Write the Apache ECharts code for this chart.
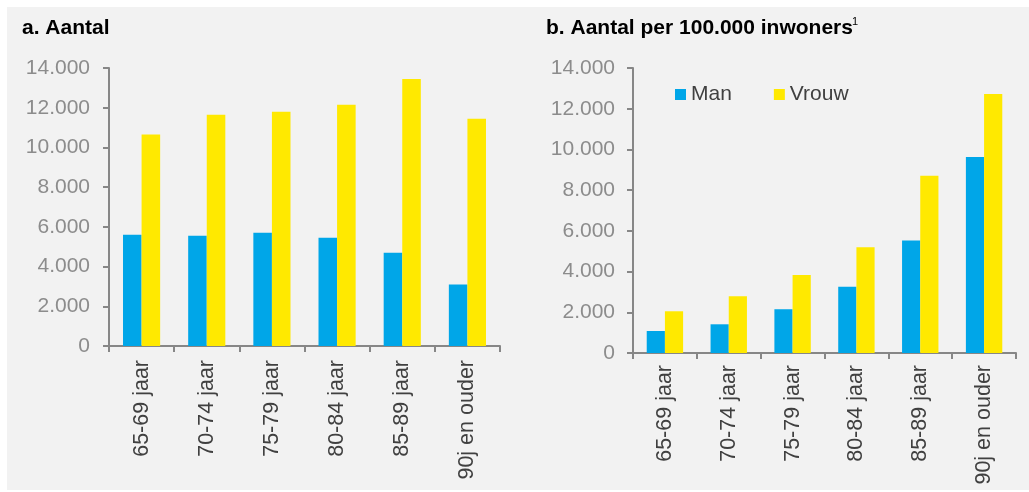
<!DOCTYPE html>
<html>
<head>
<meta charset="utf-8">
<script src="https://cdn.jsdelivr.net/npm/echarts@6/dist/echarts.min.js"></script>
<style>
  html, body { margin: 0; padding: 0; background: #ffffff; }
  #chart { width: 1029px; height: 492px; }
</style>
</head>
<body>
<div id="chart"></div>
<script>
// Age groups shown on both panels
const categories = ['65-69 jaar', '70-74 jaar', '75-79 jaar', '80-84 jaar', '85-89 jaar', '90j en ouder'];

// a. Aantal (absolute counts)
const countMan   = [5600, 5550, 5700, 5450, 4700, 3100];
const countVrouw = [10650, 11650, 11800, 12150, 13450, 11450];

// b. Aantal per 100.000 inwoners
const rateMan   = [1080, 1410, 2150, 3250, 5530, 9630];
const rateVrouw = [2050, 2790, 3830, 5190, 8710, 12720];

const seriesNames = ['Man', 'Vrouw'];
const yTicks = { min: 0, max: 14000, interval: 2000 };

const BLUE = '#00A6E8';
const YELLOW = '#FFE900';
const AXIS = '#878787';
const FONT = '"Liberation Sans", Arial, sans-serif';

// Dutch thousands separator: 14000 -> "14.000"
function fmt(v) {
  return String(v).replace(/\B(?=(\d{3})+(?!\d))/g, '.');
}

function xAxisFor(gridIndex, margin) {
  return {
    type: 'category',
    gridIndex: gridIndex,
    data: categories,
    axisLine: { lineStyle: { color: AXIS, width: 2 } },
    axisTick: { show: true, length: 6, lineStyle: { color: AXIS, width: 2 } },
    axisLabel: {
      rotate: 90, margin: margin, interval: 0,
      color: '#404040', fontSize: 21.5, fontFamily: FONT
    }
  };
}

function yAxisFor(gridIndex, margin) {
  return {
    type: 'value',
    gridIndex: gridIndex,
    min: yTicks.min, max: yTicks.max, interval: yTicks.interval,
    splitLine: { show: false },
    axisLine: { show: true, lineStyle: { color: AXIS, width: 2 } },
    axisTick: { show: true, length: 6, lineStyle: { color: AXIS, width: 2 } },
    axisLabel: {
      margin: margin, color: '#8C8C8C', fontSize: 21, fontFamily: FONT,
      formatter: fmt
    }
  };
}

function bar(name, data, color, axisIndex) {
  return {
    name: name, type: 'bar', data: data,
    xAxisIndex: axisIndex, yAxisIndex: axisIndex,
    itemStyle: { color: color },
    barGap: '0%', barCategoryGap: '43%',
    emphasis: { disabled: true }
  };
}

const chart = echarts.init(document.getElementById('chart'), null, { renderer: 'canvas' });

chart.setOption({
  backgroundColor: '#ffffff',
  animation: false,
  graphic: [
    { type: 'rect', z: -10, silent: true,
      shape: { x: 7, y: 7, width: 1022, height: 483 },
      style: { fill: '#F2F2F2' } },
    { type: 'text', left: 22, top: 18,
      style: { text: 'a. Aantal', fill: '#000000', font: 'bold 21px ' + FONT } },
    { type: 'text', left: 546, top: 18,
      style: { text: 'b. Aantal per 100.000 inwoners', fill: '#000000', font: 'bold 21px ' + FONT } },
    { type: 'text', left: 852, top: 16,
      style: { text: '1', fill: '#000000', font: '11px ' + FONT } }
  ],
  legend: {
    data: seriesNames,
    left: 675, top: 84, padding: 0,
    itemWidth: 11, itemHeight: 11, itemGap: 42,
    icon: 'rect',
    textStyle: { color: '#404040', fontSize: 21, fontFamily: FONT },
    selectedMode: false
  },
  grid: [
    { left: 109, right: 529, top: 68, bottom: 146 },
    { left: 633, right: 13, top: 68, bottom: 139 }
  ],
  xAxis: [xAxisFor(0, 14), xAxisFor(1, 12)],
  yAxis: [yAxisFor(0, 19), yAxisFor(1, 18)],
  series: [
    bar(seriesNames[0], countMan, BLUE, 0),
    bar(seriesNames[1], countVrouw, YELLOW, 0),
    bar(seriesNames[0], rateMan, BLUE, 1),
    bar(seriesNames[1], rateVrouw, YELLOW, 1)
  ]
});
</script>
</body>
</html>
